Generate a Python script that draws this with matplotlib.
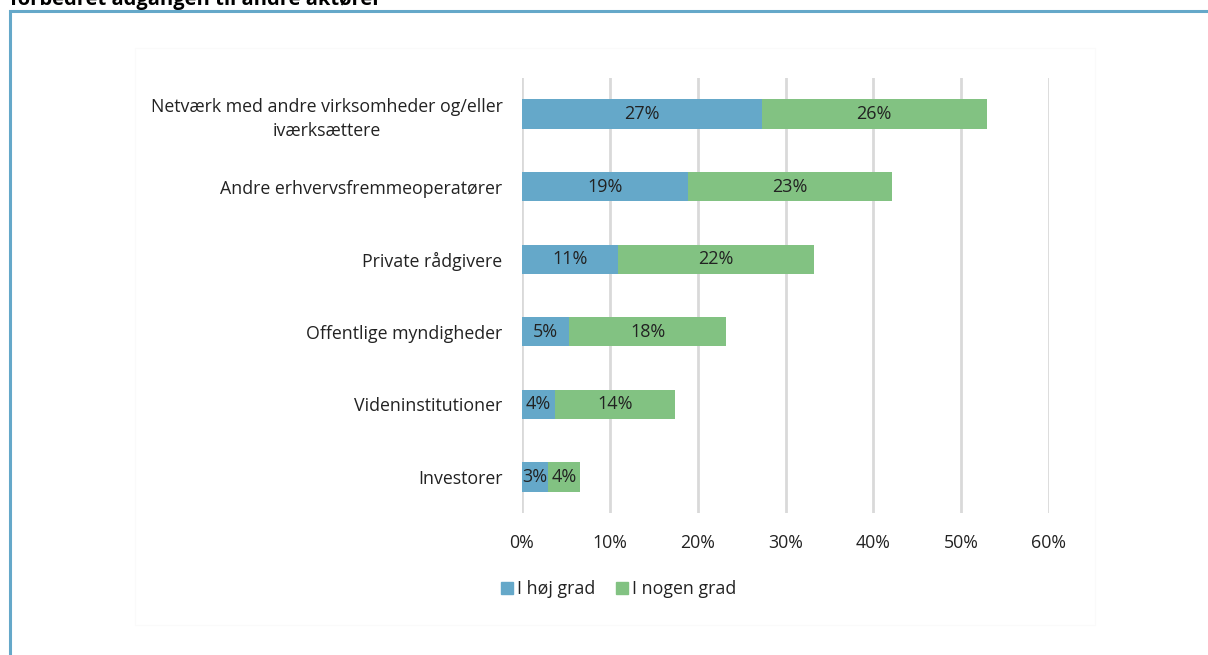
import matplotlib.pyplot as plt
from matplotlib.patches import Rectangle
from matplotlib.lines import Line2D

plt.rcParams["font.family"] = ["Open Sans", "DejaVu Sans"]

categories = ["Netværk med andre virksomheder og/eller\niværksættere",
              "Andre erhvervsfremmeoperatører",
              "Private rådgivere",
              "Offentlige myndigheder",
              "Videninstitutioner",
              "Investorer"]
hoej = [27.3, 18.9, 10.9, 5.4, 3.8, 3.0]
nogen = [25.6, 23.2, 22.3, 17.8, 13.6, 3.6]
series_names = ["I høj grad", "I nogen grad"]
xticks = [0, 10, 20, 30, 40, 50, 60]

blue = "#65A8C9"
green = "#82C282"

fig = plt.figure(figsize = (12.08, 6.55), dpi = 100)
ax = fig.add_axes([522 / 1208, 1 - 513.3 / 655, 527 / 1208, 435.6 / 655])

# frame and cut-off heading
fig.patches.append(Rectangle((9.5 / 1208, -0.1), 1.2, 1 - 10.5 / 655 + 0.1,
                             transform = fig.transFigure, fill = False,
                             edgecolor = "#65A8C9", lw = 2.2))
fig.patches.append(Rectangle((135 / 1208, 1 - 625 / 655), 960 / 1208, 577 / 655,
                             transform = fig.transFigure, fill = False,
                             edgecolor = "#FAFAFA", lw = 0.8))
fig.text(10 / 1208, 1 - 5 / 655, "forbedret adgangen til andre aktører",
         fontsize = 14.5, fontweight = "bold", ha = "left", va = "baseline")

y = list(range(len(categories)))[::-1]
ax.barh(y, hoej, height = 0.40, color = blue, zorder = 3)
ax.barh(y, nogen, left = hoej, height = 0.40, color = green, zorder = 3)

for yi, a, b in zip(y, hoej, nogen):
    ax.text(a / 2, yi, "{:.0f}%".format(a), ha = "center", va = "center",
            fontsize = 13, color = "#222222", zorder = 4)
    ax.text(a + b / 2, yi, "{:.0f}%".format(b), ha = "center", va = "center",
            fontsize = 13, color = "#222222", zorder = 4)

ax.set_xlim(0, 60)
ax.set_ylim(-0.5, len(categories) - 0.5)
ax.set_xticks(xticks)
ax.set_xticklabels(["{}%".format(t) for t in xticks])
ax.set_yticks(y)
ax.set_yticklabels(categories, multialignment = "center", linespacing = 1.45)
ax.tick_params(axis = "both", length = 0, labelsize = 12.8, colors = "#222222")
ax.tick_params(axis = "x", pad = 15)
ax.tick_params(axis = "y", pad = 14)
ax.grid(axis = "x", color = "#D9D9D9", lw = 2, zorder = 0)
for s in ax.spines.values():
    s.set_visible(False)

handles = [Line2D([], [], marker = "s", ls = "", color = blue, markersize = 9),
           Line2D([], [], marker = "s", ls = "", color = green, markersize = 9)]
fig.legend(handles, series_names, loc = "center", bbox_to_anchor = (617 / 1208, 1 - 589 / 655),
           ncol = 2, frameon = False, fontsize = 12.8, handletextpad = 0.05,
           columnspacing = 1.0, handlelength = 1.0, labelcolor = "#222222")

fig.savefig("out.png", dpi = 100, facecolor = "w")
